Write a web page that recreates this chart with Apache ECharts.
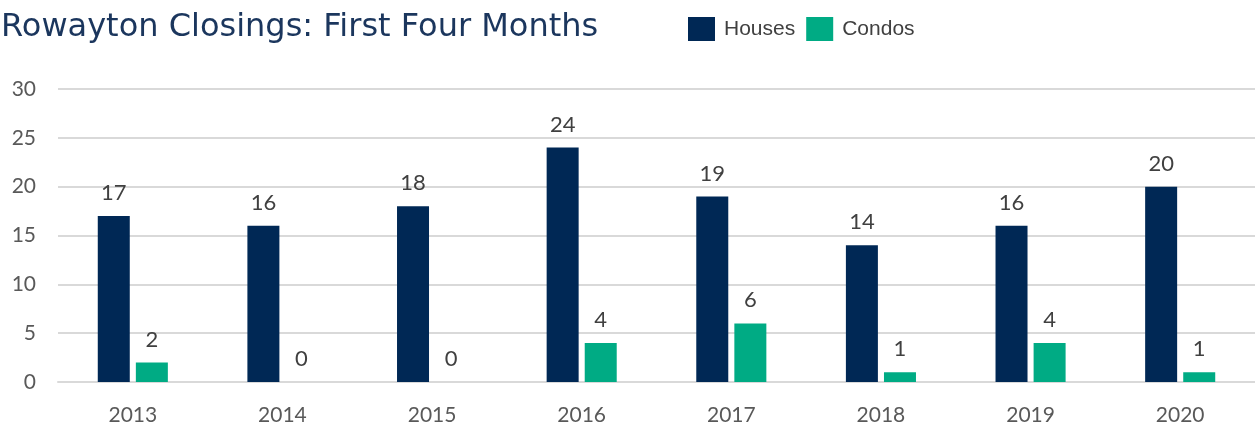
<!DOCTYPE html>
<html>
<head>
<meta charset="utf-8">
<script src="https://cdn.jsdelivr.net/npm/echarts@6/dist/echarts.min.js"></script>
<style>
  html, body { margin: 0; padding: 0; background: #fff; }
  #main { width: 1255px; height: 426px; }
</style>
</head>
<body>
<div id="main"></div>
<script>
const years = ['2013', '2014', '2015', '2016', '2017', '2018', '2019', '2020']
const houses = [17, 16, 18, 24, 19, 14, 16, 20]
const condos = [2, 0, 0, 4, 6, 1, 4, 1]
const yTicks = { min: 0, max: 30, interval: 5 }

const labelStyle = {
  show: true,
  position: 'top',
  distance: 12,
  fontSize: 22,
  color: '#404040',
  fontFamily: 'Lato, sans-serif'
}

echarts.init(document.getElementById('main')).setOption({
  animation: false,
  title: {
    text: 'Rowayton Closings: First Four Months',
    left: -4,
    top: 7,
    textStyle: {
      fontFamily: '"DejaVu Sans", sans-serif',
      fontWeight: 'normal',
      fontSize: 32,
      color: '#1b365d'
    }
  },
  legend: {
    left: 683,
    top: 12,
    icon: 'rect',
    itemWidth: 27,
    itemHeight: 24,
    itemGap: 11,
    textStyle: {
      fontSize: 21,
      color: '#404040',
      fontFamily: '"Liberation Sans", Arial, sans-serif',
      padding: [2, 0, 0, 4]
    },
    data: ['Houses', 'Condos']
  },
  grid: {
    left: 58,
    right: -2,
    top: 89,
    bottom: 43
  },
  xAxis: {
    type: 'category',
    data: years,
    axisTick: { show: false },
    axisLine: { lineStyle: { color: '#d9d9d9', width: 2 } },
    axisLabel: {
      margin: 23,
      fontSize: 21,
      color: '#595959',
      fontFamily: 'Lato, sans-serif'
    }
  },
  yAxis: {
    type: 'value',
    min: yTicks.min,
    max: yTicks.max,
    interval: yTicks.interval,
    axisLine: { show: false },
    axisTick: { show: false },
    splitLine: { lineStyle: { color: '#d9d9d9', width: 2 } },
    axisLabel: {
      margin: 22,
      fontSize: 21,
      color: '#595959',
      fontFamily: 'Lato, sans-serif'
    }
  },
  series: [
    {
      name: 'Houses',
      type: 'bar',
      data: houses,
      barWidth: 32,
      barGap: '19%',
      itemStyle: { color: '#002855' },
      label: labelStyle
    },
    {
      name: 'Condos',
      type: 'bar',
      data: condos,
      barWidth: 32,
      itemStyle: { color: '#00ab84' },
      label: labelStyle
    }
  ]
})
</script>
</body>
</html>
